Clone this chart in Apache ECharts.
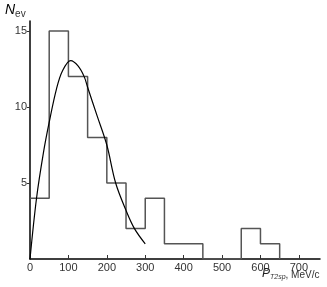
<!DOCTYPE html>
<html><head><meta charset="utf-8">
<script src="https://cdn.jsdelivr.net/npm/echarts@6/dist/echarts.min.js"></script>
<style>html,body{margin:0;padding:0;background:#fff}#c{width:327px;height:287px}</style>
</head><body><div id="c"></div>
<script>
// Histogram: left bin edges (MeV/c) and counts
var binEdges = [0, 50, 100, 150, 200, 250, 300, 350, 400, 450, 550, 600, 650];
var counts   = [4, 15, 12, 8, 5, 2, 4, 1, 1, 0, 2, 1, 0];
// Fitted curve
var curveX = [0, 17, 35, 50, 69, 85, 106, 125, 141, 150, 175, 200, 223, 250, 272, 300];
var curveY = [0, 4, 7, 9, 11.2, 12.4, 13.05, 12.7, 12, 11.3, 9.4, 7.5, 5.0, 3.2, 2.0, 1.0];
var xTicks = [0, 100, 200, 300, 400, 500, 600, 700];
var yTicks = [5, 10, 15];

var histData = binEdges.map(function(x, i){ return [x, counts[i]]; });
var curveData = curveX.map(function(x, i){ return [x, curveY[i]]; });

var chart = echarts.init(document.getElementById('c'));
chart.setOption({
  animation: false,
  grid: {left: 30, right: 7, top: 21, bottom: 28, containLabel: false},
  xAxis: {
    type: 'value', min: 0, max: 755,
    splitLine: {show: false},
    axisLine: {onZero: false, lineStyle: {color: '#000', width: 1.5}},
    axisTick: {inside: true, length: 4, customValues: xTicks, lineStyle: {color: '#333'}},
    axisLabel: {customValues: xTicks, color: '#333', fontSize: 11, fontFamily: 'Liberation Sans', margin: 3}
  },
  yAxis: {
    type: 'value', min: 0, max: 15.66,
    splitLine: {show: false},
    axisLine: {show: true, lineStyle: {color: '#000', width: 1.5}},
    axisTick: {show: true, inside: false, length: 3, customValues: yTicks, lineStyle: {color: '#333'}},
    axisLabel: {customValues: yTicks, color: '#333', fontSize: 11, fontFamily: 'Liberation Sans', margin: 3}
  },
  graphic: [
    {type: 'text', left: 5, top: 3, style: {
      text: '{n|N}{s|ev}', rich: {
        n: {fontSize: 14, fontStyle: 'italic', fontFamily: 'Liberation Sans', fill: '#000'},
        s: {fontSize: 10, fontFamily: 'Liberation Sans', fill: '#333', padding: [8, 0, 0, 0]}
      }}},
    {type: 'text', left: 262, top: 268, style: {
      text: '{p|P}{s|T2sp}{u|, MeV/c}', rich: {
        p: {fontSize: 12, fontStyle: 'italic', fontFamily: 'Liberation Sans', fill: '#222'},
        s: {fontSize: 7, fontStyle: 'italic', fontFamily: 'Liberation Sans', fill: '#333', padding: [6, 0, 0, 0]},
        u: {fontSize: 10, fontFamily: 'Liberation Sans', fill: '#333', padding: [2, 0, 0, 0]}
      }}}
  ],
  series: [
    {type: 'line', data: histData, step: 'end', showSymbol: false,
     lineStyle: {color: '#555', width: 1.5}},
    {type: 'line', data: curveData, smooth: 0.35, showSymbol: false,
     lineStyle: {color: '#000', width: 1.2}}
  ]
});
</script></body></html>
